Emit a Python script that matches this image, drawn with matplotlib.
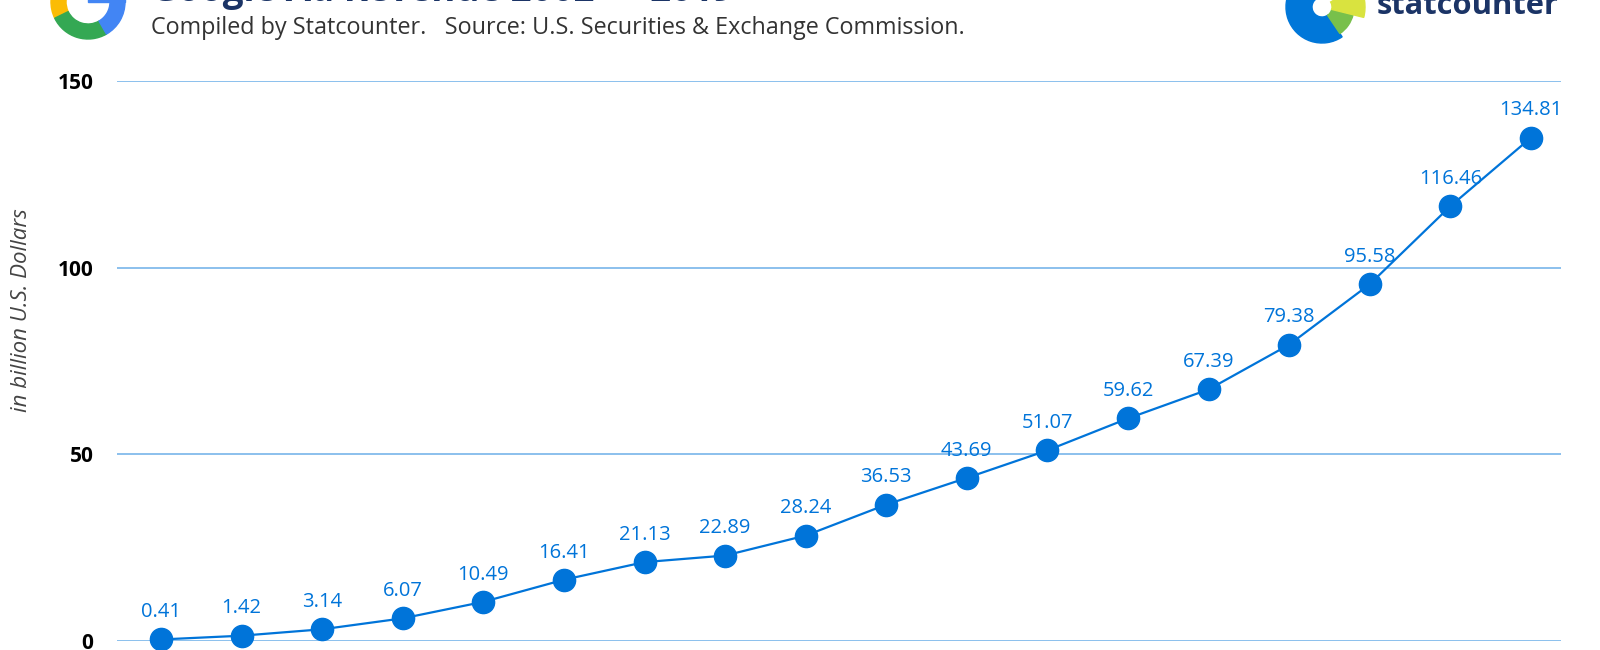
import numpy as np
import matplotlib.pyplot as plt
from matplotlib.patches import Wedge, Rectangle

plt.rcParams['font.family'] = ['Open Sans', 'DejaVu Sans']

years = list(range(2002, 2020))
revenue = [0.41, 1.42, 3.14, 6.07, 10.49, 16.41, 21.13, 22.89, 28.24,
           36.53, 43.69, 51.07, 59.62, 67.39, 79.38, 95.58, 116.46, 134.81]
y_ticks = [0, 50, 100, 150]

title = "Google Ad Revenue 2002 \u2014 2019"
subtitle = "Compiled by Statcounter.   Source: U.S. Securities & Exchange Commission."

blue = '#0074d9'
grid_blue = '#82bbec'
navy = '#1b3466'

fig = plt.figure(figsize=(16, 6.5), dpi=100)
ax = fig.add_axes([117/1600, 9/650, 1444/1600, 560/650])

x = np.arange(len(years))
ax.plot(x, revenue, color=blue, lw=1.6, marker='o', ms=16,
        markerfacecolor=blue, markeredgecolor=blue, clip_on=False, zorder=3)
for xi, v in zip(x, revenue):
    ax.annotate(f"{v:.2f}", (xi, v), xytext=(0, 16), textcoords='offset points',
                ha='center', va='baseline', fontsize=14.5, color=blue)

ax.set_xlim(-0.546, 17.373)
ax.set_ylim(0, 150)
ax.set_yticks(y_ticks)
ax.set_yticklabels([str(t) for t in y_ticks], fontsize=15, fontweight='bold', color='black')
ax.set_xticks(x)
ax.set_xticklabels([])
ax.tick_params(axis='both', length=0)
ax.tick_params(axis='y', pad=17)
ax.grid(axis='y', color=grid_blue, lw=1.3)
ax.set_axisbelow(True)
for s in ax.spines.values():
    s.set_visible(False)

fig.text(22/1600, 1 - 310/650, "in billion U.S. Dollars", rotation=90, ha='center',
         va='center', fontsize=16, style='italic', color='#444444')

fig.text(151/1600, 1 - 1/650, title, ha='left', va='baseline', fontsize=26.4,
         fontweight='bold', color=navy)
fig.text(151/1600, 1 - 34/650, subtitle, ha='left', va='baseline', fontsize=16.8,
         color='#333333')
fig.text(1377/1600, 1 - 14/650, "statcounter", ha='left', va='baseline', fontsize=22.2,
         fontweight='bold', color=navy)

# logos drawn in pixel space
lg = fig.add_axes([0, 0, 1, 1], zorder=-1)
lg.set_xlim(0, 1600)
lg.set_ylim(650, 0)
lg.axis('off')

# google "G" (angles measured with y pointing down, so flip sign)
gc, gr, gw = (88, 2), 37, 15
for a1, a2, c in [(150, 206, '#fbbc05'), (206, 300, '#34a853'), (300, 360, '#4285f4')]:
    lg.add_patch(Wedge(gc, gr, -a2, -a1, width=gw, color=c))
lg.add_patch(Rectangle((gc[0], gc[1] - 14), gr, 14, color='#4285f4'))

# statcounter donut
sc = (1322, 7)
for a1, a2, r, c in [(95, 304, 36, '#0077d9'), (304, 346, 32, '#78c04b'), (346, 390, 43, '#d9e33f')]:
    lg.add_patch(Wedge(sc, r, -a2, -a1, width=r - 10, color=c))

fig.savefig('out.png', dpi=100)
